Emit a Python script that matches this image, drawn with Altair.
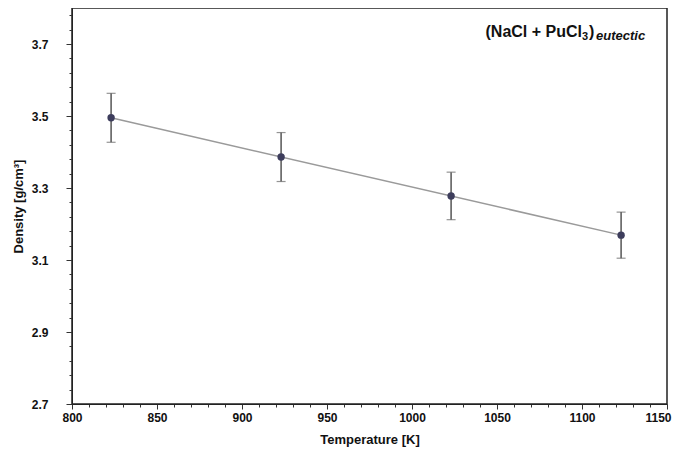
import altair as alt
import pandas as pd

# data
temperature = [823, 923, 1023, 1123]
density = [3.495, 3.386, 3.278, 3.169]
err = [0.068, 0.068, 0.066, 0.064]

x_ticks = list(range(800, 1151, 10))
y_ticks = [round(2.7 + 0.04 * k, 2) for k in range(28)]

df = pd.DataFrame({
    "T": temperature,
    "D": density,
    "lo": [d - e for d, e in zip(density, err)],
    "hi": [d + e for d, e in zip(density, err)],
})

FONT = "Liberation Sans Narrow, Liberation Sans, Arial"

x_major = "datum.value % 50 === 0"
y_major = "abs(datum.value*10 - round(datum.value*10)) < 0.001 && round(datum.value*10) % 2 === 1"

xscale = alt.Scale(domain=[800, 1150], nice=False, zero=False)
yscale = alt.Scale(domain=[2.7, 3.8], nice=False, zero=False)

xaxis = alt.Axis(
    values=x_ticks, title="Temperature [K]",
    labelExpr=f"{x_major} ? format(datum.value, 'd') : ''",
    tickSize={"condition": {"test": x_major, "value": 5}, "value": 3},
    labelOffset={"condition": {"test": "datum.value === 1150", "value": -9}, "value": 0},
    labelPadding=3, titlePadding=10, grid=False,
    labelFont=FONT, labelFontWeight="bold", labelFontSize=12, labelColor="#111",
    titleFont=FONT, titleFontWeight="bold", titleFontSize=13, titleColor="#111",
    domainColor="#222", tickColor="#333", labelFlush=False, labelOverlap=False,
)
yaxis = alt.Axis(
    values=y_ticks, title="Density [g/cm³]",
    labelExpr=f"{y_major} ? format(datum.value, '.1f') : ''",
    tickSize={"condition": {"test": y_major, "value": 6}, "value": 3},
    labelPadding=18, titlePadding=6, grid=False,
    labelFont=FONT, labelFontWeight="bold", labelFontSize=12, labelColor="#111",
    titleFont=FONT, titleFontWeight="bold", titleFontSize=13, titleColor="#111",
    domainColor="#222", tickColor="#333", labelOverlap=False,
)

X = alt.X("T:Q", scale=xscale, axis=xaxis)

base = alt.Chart(df)

fit = base.mark_line(color="#9a9a9a", strokeWidth=1.5).transform_regression(
    "T", "D"
).encode(
    x=X,
    y=alt.Y("D:Q", scale=yscale, axis=yaxis),
)

bars = base.mark_rule(color="#555", strokeWidth=1.5).encode(
    x=X, y=alt.Y("lo:Q", scale=yscale, axis=yaxis), y2="hi:Q"
)
cap_lo = base.mark_tick(color="#666", size=9, thickness=1.2, orient="horizontal").encode(
    x=X, y=alt.Y("lo:Q", scale=yscale, axis=yaxis)
)
cap_hi = base.mark_tick(color="#666", size=9, thickness=1.2, orient="horizontal").encode(
    x=X, y=alt.Y("hi:Q", scale=yscale, axis=yaxis)
)
pts = base.mark_circle(size=55, opacity=1, color="#3d3d5c").encode(
    x=X, y=alt.Y("D:Q", scale=yscale, axis=yaxis)
)

one = pd.DataFrame({"k": [0]})
t_main = alt.Chart(one).mark_text(
    font=FONT, fontWeight="bold", fontSize=16, align="right", baseline="alphabetic", color="#111"
).encode(x=alt.value(510), y=alt.value(29), text=alt.value("(NaCl + PuCl"))
t_sub = alt.Chart(one).mark_text(
    font=FONT, fontWeight="bold", fontSize=11, align="left", baseline="alphabetic", color="#111"
).encode(x=alt.value(510), y=alt.value(32), text=alt.value("3"))
t_par = alt.Chart(one).mark_text(
    font=FONT, fontWeight="bold", fontSize=16, align="left", baseline="alphabetic", color="#111"
).encode(x=alt.value(517), y=alt.value(29), text=alt.value(")"))
t_eu = alt.Chart(one).mark_text(
    font=FONT, fontWeight="bold", fontStyle="italic", fontSize=13, align="left", baseline="alphabetic", color="#111"
).encode(x=alt.value(524), y=alt.value(32), text=alt.value("eutectic"))

chart = alt.layer(fit, bars, cap_lo, cap_hi, pts, t_main, t_sub, t_par, t_eu).properties(
    width=595, height=396,
    padding={"left": 64, "top": 0, "right": 6, "bottom": 45},
    autosize=alt.AutoSizeParams(type="none"),
    background="white",
).configure_view(stroke="#222", strokeWidth=1.5)

chart.save("out.html", embed_options={"renderer": "svg", "actions": False})
